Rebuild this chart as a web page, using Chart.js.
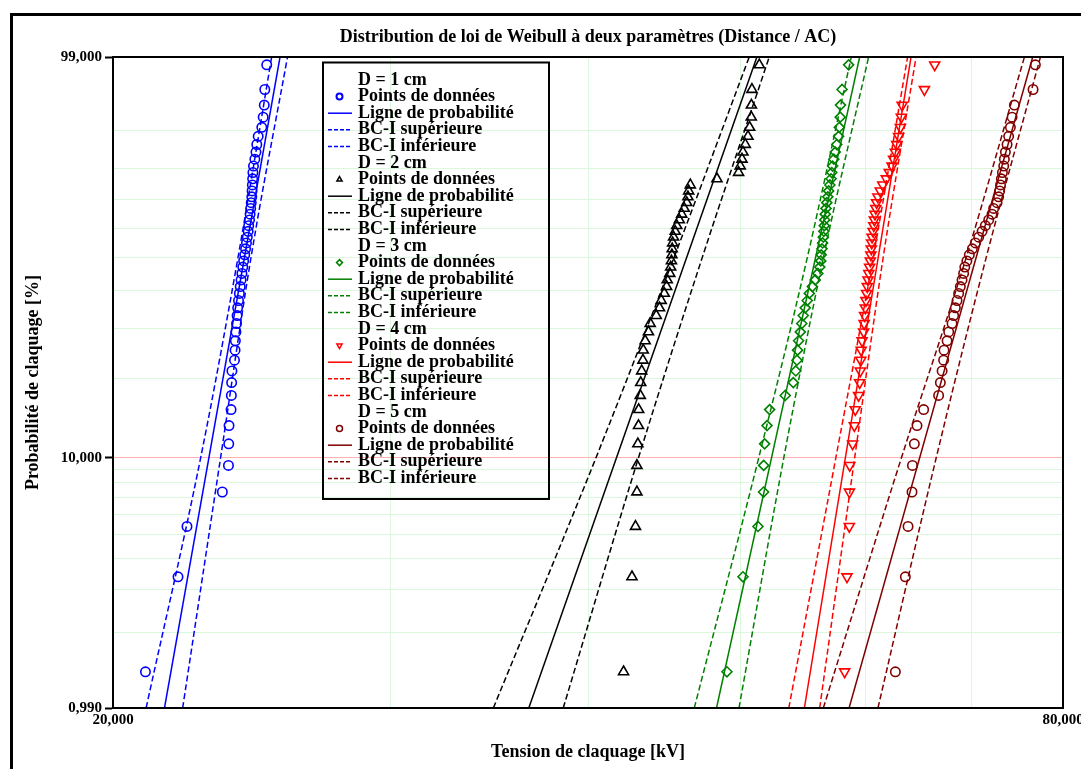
<!DOCTYPE html>
<html lang="fr">
<head>
<meta charset="utf-8">
<title>Distribution de loi de Weibull à deux paramètres</title>
<script src="https://cdn.jsdelivr.net/npm/chart.js@4.4.1/dist/chart.umd.min.js"></script>
<style>
  html, body { margin: 0; padding: 0; background: #fff; }
  #graphe { display: block; }
</style>
</head>
<body>
<canvas id="graphe" width="1081" height="769"></canvas>
<script>
// rangs médians (%) des 50 claquages, les mêmes pour chaque distance
const rangsMedians = [1.39, 3.37, 5.36, 7.34, 9.33, 11.31, 13.29, 15.28, 17.26, 19.25,
  21.23, 23.21, 25.20, 27.18, 29.17, 31.15, 33.13, 35.12, 37.10, 39.09,
  41.07, 43.06, 45.04, 47.02, 49.01, 50.99, 52.98, 54.96, 56.94, 58.93,
  60.91, 62.90, 64.88, 66.87, 68.85, 70.83, 72.82, 74.80, 76.79, 78.77,
  80.75, 82.74, 84.72, 86.71, 88.69, 90.67, 92.66, 94.64, 96.63, 98.61];

// tensions de claquage mesurées (kV)
const tensionD1 = [20.97, 21.99, 22.28, 23.46, 23.67, 23.68, 23.69, 23.76, 23.77, 23.78,
  23.79, 23.88, 23.90, 23.91, 23.93, 23.95, 23.97, 23.99, 24.02, 24.05,
  24.08, 24.11, 24.14, 24.17, 24.20, 24.24, 24.27, 24.30, 24.33, 24.36,
  24.38, 24.41, 24.43, 24.45, 24.47, 24.49, 24.50, 24.51, 24.52, 24.53,
  24.55, 24.60, 24.64, 24.67, 24.72, 24.85, 24.90, 24.94, 24.96, 25.03];
const tensionD2 = [42.13, 42.65, 42.87, 42.96, 42.96, 43.02, 43.06, 43.07, 43.17, 43.20,
  43.26, 43.34, 43.36, 43.48, 43.69, 43.80, 44.19, 44.40, 44.51, 44.71,
  44.86, 44.90, 45.07, 45.13, 45.18, 45.21, 45.23, 45.26, 45.32, 45.43,
  45.53, 45.70, 45.86, 46.03, 46.20, 46.28, 46.33, 46.44, 48.28, 49.83,
  49.95, 50.08, 50.15, 50.32, 50.52, 50.64, 50.76, 50.77, 50.81, 51.36];
const tensionD3 = [48.99, 50.15, 51.26, 51.68, 51.69, 51.76, 51.94, 52.14, 53.34, 53.97,
  54.17, 54.26, 54.31, 54.39, 54.53, 54.64, 54.76, 54.92, 55.08, 55.25,
  55.49, 55.73, 55.94, 56.10, 56.18, 56.22, 56.28, 56.33, 56.39, 56.43,
  56.47, 56.51, 56.55, 56.61, 56.68, 56.76, 56.83, 56.93, 57.03, 57.09,
  57.16, 57.26, 57.38, 57.51, 57.66, 57.72, 57.80, 57.82, 57.95, 58.51];
const tensionD4 = [58.17, 58.37, 58.57, 58.58, 58.61, 58.85, 59.00, 59.08, 59.37, 59.46,
  59.52, 59.56, 59.59, 59.67, 59.81, 59.85, 59.89, 59.95, 60.01, 60.07,
  60.13, 60.19, 60.26, 60.33, 60.39, 60.44, 60.48, 60.52, 60.55, 60.64,
  60.70, 60.75, 60.81, 60.88, 60.95, 61.06, 61.28, 61.50, 61.82, 62.09,
  62.34, 62.48, 62.64, 62.77, 62.94, 63.10, 63.19, 63.26, 65.35, 66.34];
const tensionD5 = [62.64, 63.56, 63.81, 64.18, 64.22, 64.40, 64.65, 65.28, 66.72, 66.89,
  67.06, 67.21, 67.25, 67.55, 67.71, 68.04, 68.20, 68.37, 68.54, 68.70,
  68.87, 69.04, 69.20, 69.32, 69.53, 69.78, 70.09, 70.40, 70.74, 71.09,
  71.43, 71.78, 72.13, 72.30, 72.66, 72.83, 72.94, 73.03, 73.12, 73.23,
  73.37, 73.44, 73.55, 73.73, 73.90, 74.09, 74.27, 74.52, 76.58, 76.84];

// droites de probabilité (tension aux bords 0,99 % et 99 %)
const pLigne = [0.99, 99];
const ligneD1 = [21.56, 25.52];
const ligneD2 = [36.69, 51.18];
const ligneD3 = [48.25, 59.46];
const ligneD4 = [54.85, 64.09];
const ligneD5 = [58.55, 76.54];

// bornes de confiance lues à quelques niveaux de probabilité
const pBornes = [0.99, 10, 50, 99];
const bcSupD1 = [20.99, 22.73, 24.00, 25.21];
const bcInfD1 = [22.14, 23.40, 24.46, 25.80];
const bcSupD2 = [34.84, 40.47, 45.34, 50.61];
const bcInfD2 = [38.58, 43.06, 47.25, 52.11];
const bcSupD3 = [46.71, 51.32, 55.08, 58.74];
const bcInfD3 = [49.86, 53.23, 56.39, 60.24];
const bcSupD4 = [53.62, 57.43, 60.64, 63.77];
const bcInfD4 = [56.09, 59.03, 61.53, 64.56];
const bcSupD5 = [56.39, 63.20, 69.45, 75.62];
const bcInfD5 = [61.07, 66.49, 71.51, 77.41];

const distances = ['D = 1 cm', 'D = 2 cm', 'D = 3 cm', 'D = 4 cm', 'D = 5 cm'];

// graduations
const probasGrille = [0.99, 2, 3, 4, 5, 6, 7, 8, 9, 10, 20, 30, 40, 50, 60, 70, 80, 90, 99];
const probasEtiquetees = [0.99, 10, 99];
const tensionsGrille = [20, 30, 40, 50, 60, 70, 80];
const tensionsEtiquetees = [20, 80];

// --- style ---
const police = '"Liberation Serif", "Times New Roman", serif';
const couleurs = ['#0000ff', '#000000', '#008000', '#ff0000', '#800000'];
const marqueurs = [
  { style: 'circle', rot: 0, r: 4.7 },
  { style: 'triangle', rot: 0, r: 5.8 },
  { style: 'rectRot', rot: 0, r: 5 },
  { style: 'triangle', rot: 180, r: 5.8 },
  { style: 'circle', rot: 0, r: 4.7 }
];

// échelle de Weibull : ln(-ln(1 - F))
const weib = p => Math.log(-Math.log(1 - p / 100));
const virgule = v => v.toFixed(3).replace('.', ',');

const series = [
  [tensionD1, ligneD1, bcSupD1, bcInfD1],
  [tensionD2, ligneD2, bcSupD2, bcInfD2],
  [tensionD3, ligneD3, bcSupD3, bcInfD3],
  [tensionD4, ligneD4, bcSupD4, bcInfD4],
  [tensionD5, ligneD5, bcSupD5, bcInfD5]
];

const datasets = [];
series.forEach(([pts, ligne, sup, inf], g) => {
  const c = couleurs[g], m = marqueurs[g];
  datasets.push({
    label: 'Points de données',
    data: pts.map((v, i) => ({ x: v, y: weib(rangsMedians[i]) })),
    showLine: false,
    pointStyle: m.style, pointRotation: m.rot, pointRadius: m.r,
    pointBorderWidth: 1.6, pointBorderColor: c,
    pointBackgroundColor: 'rgba(0,0,0,0)'
  });
  datasets.push({
    label: 'Ligne de probabilité',
    data: ligne.map((v, i) => ({ x: v, y: weib(pLigne[i]) })),
    showLine: true, borderColor: c, borderWidth: 1.5, pointRadius: 0
  });
  [['BC-I supérieure', sup], ['BC-I inférieure', inf]].forEach(([lab, b]) => {
    datasets.push({
      label: lab,
      data: b.map((v, i) => ({ x: v, y: weib(pBornes[i]) })),
      showLine: true, borderColor: c, borderWidth: 1.5, borderDash: [6, 3],
      cubicInterpolationMode: 'monotone', pointRadius: 0
    });
  });
});

// légende encadrée dans la zone du graphique
const legende = {
  id: 'legende',
  afterDraw(chart) {
    const ctx = chart.ctx;
    ctx.save();
    ctx.strokeStyle = '#000';
    ctx.lineWidth = 2;
    ctx.strokeRect(323, 62.5, 226, 436.5);
    ctx.font = 'bold 18px ' + police;
    ctx.textBaseline = 'middle';
    let y = 80;
    const pas = 16.6;
    distances.forEach((nom, g) => {
      ctx.fillStyle = '#000';
      ctx.fillText(nom, 358, y);
      y += pas;
      for (let k = 0; k < 4; k++) {
        const ds = chart.data.datasets[g * 4 + k];
        ctx.strokeStyle = couleurs[g];
        ctx.fillStyle = 'rgba(0,0,0,0)';
        if (k === 0) {
          const m = marqueurs[g];
          Chart.helpers.drawPoint(ctx, {
            pointStyle: m.style, rotation: m.rot, radius: 3, borderWidth: 1.5
          }, 339.5, y);
        } else {
          ctx.lineWidth = 1.5;
          ctx.setLineDash(k === 1 ? [] : [4, 2]);
          ctx.beginPath();
          ctx.moveTo(328, y);
          ctx.lineTo(352, y);
          ctx.stroke();
          ctx.setLineDash([]);
        }
        ctx.fillStyle = '#000';
        ctx.fillText(ds.label, 358, y);
        y += pas;
      }
    });
    ctx.restore();
  }
};

const cadre = {
  id: 'cadre',
  beforeDraw(chart) {
    const ctx = chart.ctx;
    ctx.save();
    ctx.fillStyle = '#fff';
    ctx.fillRect(0, 0, chart.width, chart.height);
    ctx.restore();
  },
  afterDraw(chart) {
    const { ctx, chartArea: a } = chart;
    ctx.save();
    ctx.strokeStyle = '#000';
    ctx.lineWidth = 2;
    ctx.strokeRect(a.left, a.top, a.right - a.left, a.bottom - a.top);
    ctx.lineWidth = 3;
    ctx.beginPath();
    ctx.moveTo(11.5, chart.height + 5);
    ctx.lineTo(11.5, 14.5);
    ctx.lineTo(chart.width + 5, 14.5);
    ctx.stroke();
    ctx.restore();
  }
};

new Chart(document.getElementById('graphe'), {
  type: 'scatter',
  data: { datasets },
  plugins: [cadre, legende],
  options: {
    responsive: false,
    animation: false,
    layout: { padding: { left: 0, right: 18, top: 0, bottom: 0 } },
    plugins: {
      legend: { display: false },
      tooltip: { enabled: false },
      title: {
        display: true,
        fullSize: false,
        text: 'Distribution de loi de Weibull à deux paramètres (Distance / AC)',
        color: '#000',
        font: { family: police, size: 18, weight: 'bold' },
        padding: { top: 27, bottom: 8.4 }
      }
    },
    scales: {
      x: {
        type: 'logarithmic',
        min: 20, max: 80,
        afterBuildTicks: s => { s.ticks = tensionsGrille.map(v => ({ value: v })); },
        afterFit: s => { s.height = 61; s.paddingLeft = 0; s.paddingRight = 0; },
        ticks: {
          autoSkip: false, maxRotation: 0, padding: 3, color: '#000',
          font: { family: police, size: 15, weight: 'bold' },
          callback: v => tensionsEtiquetees.includes(v) ? virgule(v) : ''
        },
        grid: { color: '#dcf8dc', lineWidth: 1, drawTicks: false },
        border: { color: '#000', width: 2 },
        title: {
          display: true, text: 'Tension de claquage [kV]', color: '#000',
          font: { family: police, size: 18, weight: 'bold' },
          padding: { top: 4, bottom: 6 }
        }
      },
      y: {
        type: 'linear',
        min: weib(0.99), max: weib(99),
        afterBuildTicks: s => { s.ticks = probasGrille.map(p => ({ value: weib(p) })); },
        afterFit: s => { s.width = 113; },
        ticks: {
          autoSkip: false, padding: 3, color: '#000',
          font: { family: police, size: 15, weight: 'bold' },
          callback: (v, i) => probasEtiquetees.includes(probasGrille[i]) ? virgule(probasGrille[i]) : ''
        },
        grid: {
          lineWidth: 1, tickLength: 8,
          color: c => probasGrille[c.index] === 10 ? '#ffb0b0' : '#dcf8dc',
          tickColor: c => probasEtiquetees.includes(probasGrille[c.index]) ? '#000' : 'rgba(0,0,0,0)',
          tickWidth: 2
        },
        border: { color: '#000', width: 2 },
        title: {
          display: true, text: 'Probabilité de claquage [%]', color: '#000',
          font: { family: police, size: 18, weight: 'bold' },
          padding: { top: 23, bottom: 4 }
        }
      }
    }
  }
});
</script>
</body>
</html>
